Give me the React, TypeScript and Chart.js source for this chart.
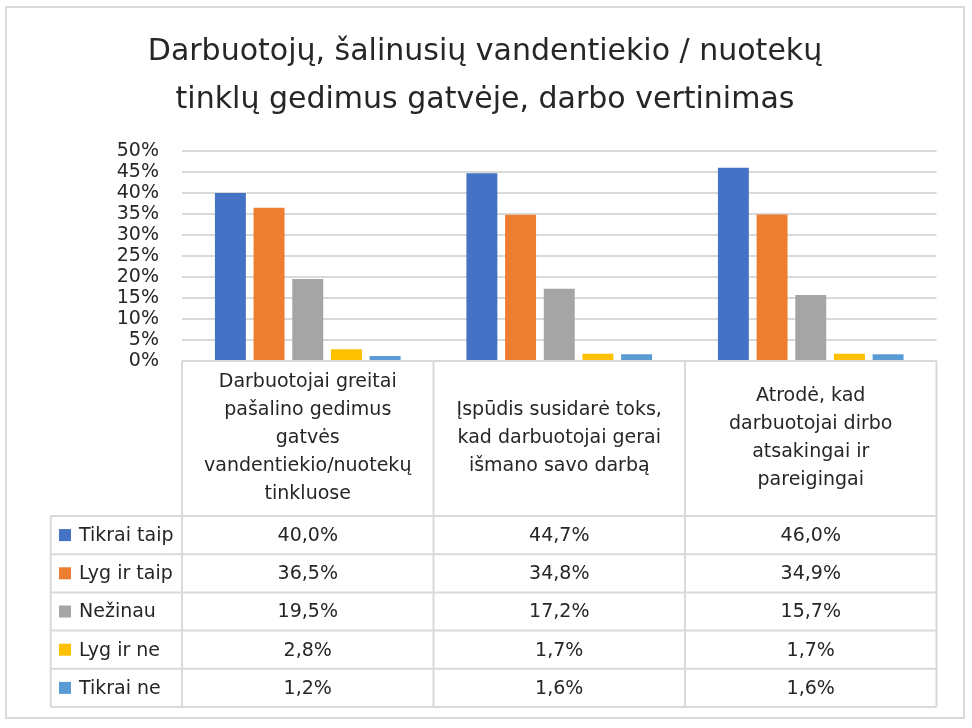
import { useEffect, useRef } from 'react';
import { Chart, ChartConfiguration, Plugin, registerables } from 'chart.js';

Chart.register(...registerables);

const FONT = "'DejaVu Sans', sans-serif";
const TEXT = '#262626';
const LINE = '#d9d9d9';

// category labels, one entry per line as they wrap in the table header
const categories = [
  ['Darbuotojai greitai', 'pašalino gedimus', 'gatvės', 'vandentiekio/nuotekų', 'tinkluose'],
  ['Įspūdis susidarė toks,', 'kad darbuotojai gerai', 'išmano savo darbą'],
  ['Atrodė, kad', 'darbuotojai dirbo', 'atsakingai ir', 'pareigingai'],
];

const seriesNames = ['Tikrai taip', 'Lyg ir taip', 'Nežinau', 'Lyg ir ne', 'Tikrai ne'];
const seriesColors = ['#4472C4', '#ED7D31', '#A5A5A5', '#FFC000', '#5B9BD5'];

// values in %
const tikraiTaip = [40.0, 44.7, 46.0];
const lygIrTaip = [36.5, 34.8, 34.9];
const nezinau = [19.5, 17.2, 15.7];
const lygIrNe = [2.8, 1.7, 1.7];
const tikraiNe = [1.2, 1.6, 1.6];

const seriesValues = [tikraiTaip, lygIrTaip, nezinau, lygIrNe, tikraiNe];

const titleLines = [
  'Darbuotojų, šalinusių vandentiekio / nuotekų',
  'tinklų gedimus gatvėje, darbo vertinimas',
];

const fmt = (v: number) => v.toFixed(1).replace('.', ',') + '%';

// draws the outer frame and the data table under the plot
const tablePlugin: Plugin<'bar'> = {
  id: 'dataTable',
  beforeDraw(chart) {
    const { ctx } = chart;
    ctx.save();
    ctx.strokeStyle = LINE;
    ctx.lineWidth = 2;
    ctx.strokeRect(6, 7, 958, 711);
    ctx.restore();
  },
  afterDraw(chart) {
    const { ctx, chartArea } = chart;
    const x = chart.scales.x;
    const edges = [0, 1, 2, 3].map(i => x.getPixelForValue(i - 0.5));
    const top = chartArea.bottom;
    const headerBottom = top + 155;
    const rowH = 38.2;
    const legendLeft = 50.7;
    const bottom = headerBottom + rowH * seriesNames.length;

    ctx.save();
    ctx.strokeStyle = LINE;
    ctx.lineWidth = 2;
    ctx.beginPath();
    ctx.moveTo(edges[0], top);
    ctx.lineTo(edges[3], top);
    for (let r = 0; r <= seriesNames.length; r++) {
      const y = headerBottom + r * rowH;
      ctx.moveTo(legendLeft, y);
      ctx.lineTo(edges[3], y);
    }
    edges.forEach(e => {
      ctx.moveTo(e, top);
      ctx.lineTo(e, bottom);
    });
    ctx.moveTo(legendLeft, headerBottom);
    ctx.lineTo(legendLeft, bottom);
    ctx.stroke();

    ctx.fillStyle = TEXT;
    ctx.font = `19px ${FONT}`;
    ctx.textAlign = 'center';
    ctx.textBaseline = 'middle';

    // header cells
    categories.forEach((lines, i) => {
      const cx = x.getPixelForValue(i);
      const cy = (top + headerBottom) / 2;
      const start = cy - ((lines.length - 1) * 28) / 2;
      lines.forEach((line, k) => ctx.fillText(line, cx, start + k * 28));
    });

    // rows
    seriesNames.forEach((name, d) => {
      const cy = headerBottom + (d + 0.5) * rowH;
      ctx.fillStyle = seriesColors[d];
      ctx.fillRect(59, cy - 6, 12, 12);
      ctx.fillStyle = TEXT;
      ctx.textAlign = 'left';
      ctx.fillText(name, 79, cy + 1);
      ctx.textAlign = 'center';
      seriesValues[d].forEach((v, i) => {
        ctx.fillText(fmt(v), x.getPixelForValue(i), cy + 1);
      });
    });
    ctx.restore();
  },
};

export default function App() {
  const chartRef = useRef<HTMLCanvasElement>(null);

  useEffect(() => {
    if (!chartRef.current) return;

    const config: ChartConfiguration<'bar'> = {
      type: 'bar',
      data: {
        labels: categories,
        datasets: seriesNames.map((name, d) => ({
          label: name,
          data: seriesValues[d],
          backgroundColor: seriesColors[d],
          categoryPercentage: 0.769,
          barPercentage: 0.8,
        })),
      },
      options: {
        animation: false,
        responsive: true,
        maintainAspectRatio: false,
        layout: {
          padding: { left: 33.5, right: 35.5, top: 0, bottom: 367 },
        },
        scales: {
          x: { display: false },
          y: {
            min: 0,
            max: 50,
            afterFit: scale => {
              scale.width = 148.5;
            },
            ticks: {
              stepSize: 5,
              autoSkip: false,
              padding: 23,
              color: TEXT,
              font: { family: FONT, size: 19, lineHeight: 1 },
              callback: v => v + '%',
            },
            grid: { color: LINE, lineWidth: 2, drawTicks: false },
            border: { display: false },
          },
        },
        plugins: {
          legend: { display: false },
          tooltip: { enabled: false },
          title: {
            display: true,
            text: titleLines,
            color: TEXT,
            font: { family: FONT, size: 30, weight: 'normal', lineHeight: 48 / 30 },
            padding: { top: 28.5, bottom: 26.5 },
          },
        },
      },
      plugins: [tablePlugin],
    };

    const chart = new Chart(chartRef.current, config);
    return () => chart.destroy();
  }, []);

  return (
    <div style={{ position: 'absolute', left: 0, top: 0, width: 972, height: 728, background: '#fff' }}>
      <canvas ref={chartRef} />
    </div>
  );
}
